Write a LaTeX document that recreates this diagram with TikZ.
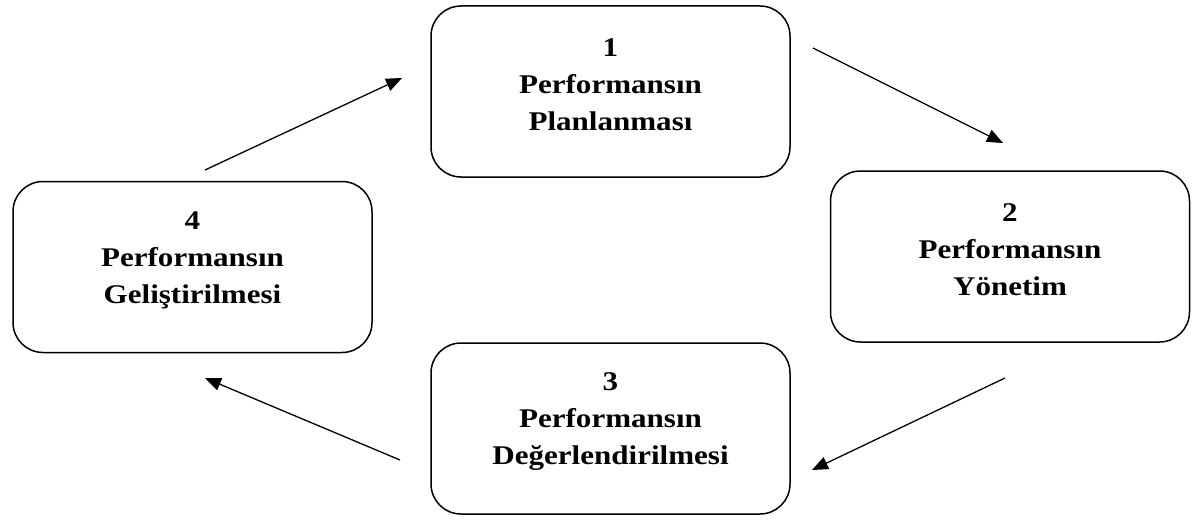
\documentclass[tikz,border=0pt]{standalone}
\usepackage{fontspec}
\setmainfont{Liberation Serif}[FakeStretch=1.15]
\usetikzlibrary{arrows.meta}

\begin{document}
\begin{tikzpicture}[x=1pt, y=-1pt,
  stage/.style = {draw, rounded corners=30pt, line width=1.5pt, minimum width=359pt, minimum height=171pt},
  stagetext/.style = {align=center, font=\bfseries\fontsize{27}{37}\selectfont},
  flow/.style = {-{Triangle[length=16pt,width=13pt]}, line width=1.3pt}]
\useasboundingbox (0,0) rectangle (1195,527);

\node[stage] (P1) at (610.5,91.5) {};
\node[stage] (P2) at (1010,256.5) {};
\node[stage] (P3) at (610.5,428.5) {};
\node[stage] (P4) at (192.5,267) {};

\node[stagetext] (T1) at ([yshift=7pt]P1.center) {1\\Performansın\\Planlanması};
\node[stagetext] (T2) at ([yshift=7pt]P2.center) {2\\Performansın\\Yönetim};
\node[stagetext] (T3) at ([yshift=7pt]P3.center) {3\\Performansın\\Değerlendirilmesi};
\node[stagetext] (T4) at ([yshift=7pt]P4.center) {4\\Performansın\\Geliştirilmesi};

% arrow ends
\coordinate (A41) at (205,170);
\coordinate (B41) at (402,78);
\coordinate (A12) at (813,48);
\coordinate (B12) at (1003,143);
\coordinate (A23) at (1005,378);
\coordinate (B23) at (812,470);
\coordinate (A34) at (400,460);
\coordinate (B34) at (205,378);

\draw[flow] (A41) to (B41);
\draw[flow] (A12) to (B12);
\draw[flow] (A23) to (B23);
\draw[flow] (A34) to (B34);

\end{tikzpicture}
\end{document}
